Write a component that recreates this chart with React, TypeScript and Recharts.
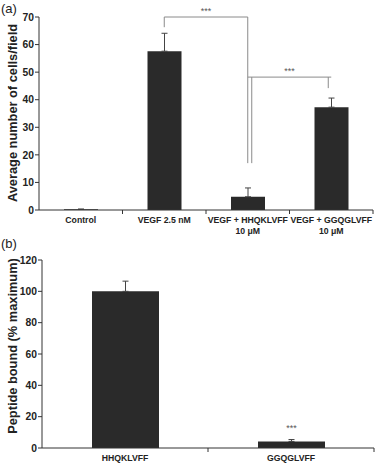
import { BarChart, Bar, XAxis, YAxis, ErrorBar, ReferenceLine, LabelList } from 'recharts';

// panel (a)
const groupsA = ['Control', 'VEGF 2.5 nM', 'VEGF + HHQKLVFF|10 μM', 'VEGF + GGQGLVFF|10 μM'];
const cellsA = [0.3, 57.6, 4.8, 37.3];
const errA = [0, 6.5, 3.2, 3.3];
const ticksA = [0, 10, 20, 30, 40, 50, 60, 70];

// panel (b)
const peptidesB = ['HHQKLVFF', 'GGQGLVFF'];
const boundB = [100, 4.2];
const errB = [6.5, 1.2];
const sigB = ['', '***'];
const ticksB = [0, 20, 40, 60, 80, 100, 120];

const dataA = groupsA.map((g, i) => ({ name: g, value: cellsA[i], err: [0, errA[i]] }));
const dataB = peptidesB.map((p, i) => ({ name: p, value: boundB[i], err: [0, errB[i]], sig: sigB[i] }));

const FONT = 'Arial, "Liberation Sans", Helvetica, sans-serif';
const BAR = '#2a2a2a';
const AXIS = '#333';
const BRACKET = '#8a8a8a';

function CatTick(props: any) {
  const { x, y, payload, band } = props;
  const lines = String(payload.value).split('|');
  return (
    <g>
      <line x1={x + band / 2} y1={y - 8} x2={x + band / 2} y2={y - 4} stroke={AXIS} />
      <text x={x} y={y + 5} textAnchor="middle" fontFamily={FONT} fontWeight="bold" fontSize={8.7} fill="#222">
        {lines.map((l: string, i: number) => (
          <tspan key={i} x={x} dy={i === 0 ? 0 : 10.5}>{l}</tspan>
        ))}
      </text>
    </g>
  );
}

const shifted = (dx: number) => (p: any) => (
  <line x1={p.x1 + dx} y1={p.y1} x2={p.x2 + dx} y2={p.y2} stroke={BRACKET} strokeWidth={1} />
);

const starLabel = (value: string) => (p: any) => {
  const vb = p.viewBox;
  return (
    <text x={vb.x + vb.width / 2} y={vb.y - 3} textAnchor="middle" fontFamily={FONT} fontSize={9} fill="#555">
      {value}
    </text>
  );
};

function YLabel({ text, x, y }: { text: string; x: number; y: number }) {
  return (
    <text x={x} y={y} transform={`rotate(-90, ${x}, ${y})`} textAnchor="middle" dominantBaseline="central"
      fontFamily={FONT} fontWeight="bold" fontSize={12.8} fill="#222">
      {text}
    </text>
  );
}

export default function App() {
  const bandA = (378 - 39 - 5) / groupsA.length;
  const bandB = (378 - 42 - 4) / peptidesB.length;
  const yTick = { fontFamily: FONT, fontWeight: 'bold', fontSize: 10.3, fill: '#222' } as any;
  return (
    <div style={{ position: 'absolute', left: 0, top: 0, width: 378, height: 465, background: '#fff' }}>
      <div style={{ position: 'absolute', left: 1, top: 1, fontFamily: FONT, fontSize: 13, color: '#222' }}>(a)</div>
      <div style={{ position: 'absolute', left: 1, top: 236, fontFamily: FONT, fontSize: 13, color: '#222' }}>(b)</div>
      <div style={{ position: 'absolute', left: 0, top: 0 }}>
        <BarChart width={378} height={238} data={dataA} margin={{ top: 17, right: 5, left: 0, bottom: 0 }} barSize={34}>
          <XAxis dataKey="name" height={28} stroke={AXIS} tickLine={false} interval={0}
            tick={<CatTick band={bandA} />} />
          <YAxis width={39} domain={[0, 70]} ticks={ticksA} stroke={AXIS} tickSize={4} tickMargin={1} tick={yTick} />
          <Bar dataKey="value" fill={BAR} isAnimationActive={false}>
            <ErrorBar dataKey="err" width={3} stroke="#444" strokeWidth={1} direction="y" />
          </Bar>
          <ReferenceLine segment={[{ x: groupsA[1], y: 66.3 }, { x: groupsA[1], y: 70 }]} shape={shifted(0)} />
          <ReferenceLine segment={[{ x: groupsA[1], y: 70 }, { x: groupsA[2], y: 70 }]} shape={shifted(0)}
            label={starLabel('***') as any} />
          <ReferenceLine segment={[{ x: groupsA[2], y: 70 }, { x: groupsA[2], y: 17 }]} shape={shifted(0)} />
          <ReferenceLine segment={[{ x: groupsA[2], y: 17 }, { x: groupsA[2], y: 48.2 }]} shape={shifted(4)} />
          <ReferenceLine segment={[{ x: groupsA[2], y: 48.2 }, { x: groupsA[3], y: 48.2 }]} shape={shifted(0)}
            label={starLabel('***') as any} />
          <ReferenceLine segment={[{ x: groupsA[3], y: 48.2 }, { x: groupsA[3], y: 44.2 }]} shape={shifted(-3)} />
          <YLabel text="Average number of cells/field" x={12} y={113} />
        </BarChart>
      </div>
      <div style={{ position: 'absolute', left: 0, top: 238 }}>
        <BarChart width={378} height={227} data={dataB} margin={{ top: 22, right: 4, left: 0, bottom: 0 }} barSize={67}>
          <XAxis dataKey="name" height={17} stroke={AXIS} tickLine={false} interval={0}
            tick={<CatTick band={bandB} />} />
          <YAxis width={42} domain={[0, 120]} ticks={ticksB} stroke={AXIS} tickSize={4} tickMargin={1} tick={yTick} />
          <Bar dataKey="value" fill={BAR} isAnimationActive={false}>
            <ErrorBar dataKey="err" width={3} stroke="#444" strokeWidth={1} direction="y" />
            <LabelList dataKey="sig" position="top" offset={10} fontFamily={FONT} fontSize={9} fill="#555" />
          </Bar>
          <YLabel text="Peptide bound (% maximum)" x={12} y={108} />
        </BarChart>
      </div>
    </div>
  );
}
